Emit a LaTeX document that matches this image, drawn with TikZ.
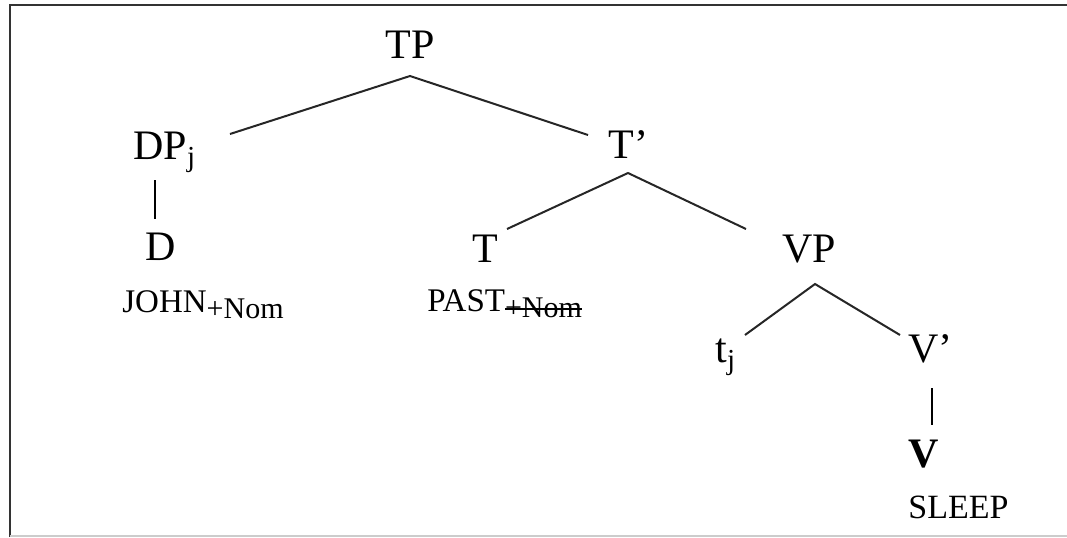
\documentclass[tikz,border=0pt]{standalone}
\usepackage{fontspec}
\setmainfont{Liberation Serif}
\newcommand\lowsub[1]{\raisebox{-3.5pt}{\fontsize{14.5}{14.5}\selectfont #1}}
\newcommand\casefeat[1]{\raisebox{-3pt}{\fontsize{15}{15}\selectfont #1}}
% struck-through text: a rule laid over the box
\newcommand\struck[1]{\setbox0\hbox{#1}\rlap{\rule[3.6pt]{\wd0}{0.9pt}}\box0}
\begin{document}
\begin{tikzpicture}[x=0.5pt,y=-0.5pt,
  cat/.style={anchor=base west,inner sep=0pt,font=\fontsize{21}{21}\selectfont},
  word/.style={anchor=base west,inner sep=0pt,font=\fontsize{16.5}{16.5}\selectfont},
  branch/.style={line width=1pt,line join=miter,black!85},
  unary/.style={line width=0.6pt}]
\useasboundingbox (0,0) rectangle (1067,537);
% frame
\draw[line width=1pt,black!80] (10,537) -- (10,5) -- (1067,5);
\draw[line width=0.6pt,black!20] (10,536) -- (1067,536);
% categories
\node[cat] (TP) at (385,58) {TP};
\node[cat] (DP) at (133,159) {DP\lowsub{j}};
\node[cat] (Tbar) at (608,158) {T’};
\node[cat] (D) at (145,260) {D};
\node[cat] (T) at (472,262) {T};
\node[cat] (VP) at (782,262) {VP};
\node[cat] (t) at (715,362) {t\lowsub{j}};
\node[cat] (Vbar) at (908,362) {V’};
\node[cat] (V) at (908,467) {\bfseries V};
% lexical items
\node[word] (john) at (122,312) {JOHN\casefeat{+Nom}};
\node[word] (past) at (427,311) {PAST\casefeat{\struck{+Nom}}};
\node[word,font=\fontsize{17}{17}\selectfont] (sleep) at (908,518) {SLEEP};
% branch points
\coordinate (TP-foot) at (410,76);
\coordinate (DP-top) at (230,134);
\coordinate (Tbar-top) at (588,135);
\coordinate (Tbar-foot) at (628,173);
\coordinate (T-top) at (507,229);
\coordinate (VP-top) at (746,229);
\coordinate (VP-foot) at (815,284);
\coordinate (t-top) at (745,335);
\coordinate (Vbar-top) at (900,335);
\coordinate (DP-foot) at (155,180);
\coordinate (D-top) at (155,219);
\coordinate (Vbar-foot) at (932,388);
\coordinate (V-top) at (932,425);
% branches
\draw[branch] (DP-top) -- (TP-foot) -- (Tbar-top);
\draw[branch] (T-top) -- (Tbar-foot) -- (VP-top);
\draw[branch] (t-top) -- (VP-foot) -- (Vbar-top);
\draw[unary] (DP-foot) -- (D-top);
\draw[unary] (Vbar-foot) -- (V-top);
\end{tikzpicture}
\end{document}
